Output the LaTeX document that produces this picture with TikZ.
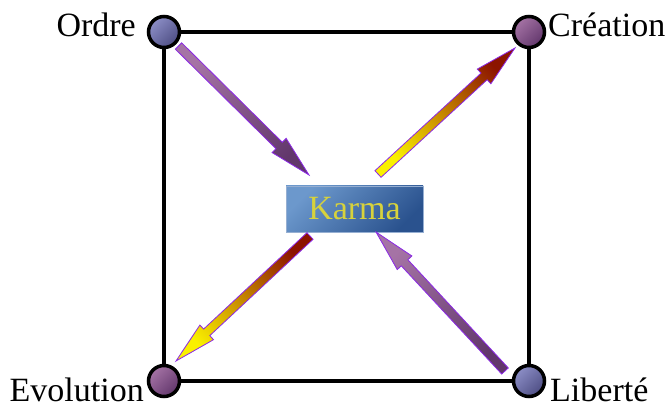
\documentclass[tikz,border=0pt]{standalone}
\usepackage{fontspec}
\setmainfont{Liberation Serif}
\usepackage{tikz}
\usetikzlibrary{calc}

\definecolor{bleuclair}{RGB}{140,142,198}
\definecolor{bleufonce}{RGB}{78,78,132}
\definecolor{mauveclair}{RGB}{165,115,165}
\definecolor{mauvefonce}{RGB}{98,55,108}
\definecolor{karmaclair}{RGB}{108,152,204}
\definecolor{karmafonce}{RGB}{42,82,142}
\definecolor{karmabord}{RGB}{150,175,210}
\definecolor{karmatexte}{RGB}{215,210,60}
\definecolor{violet}{RGB}{140,40,230}
\definecolor{jaune}{RGB}{250,240,0}
\definecolor{rougefonce}{RGB}{140,20,0}

\tikzset{
  coin/.style={circle, draw=black, line width=3.5pt, minimum size=31pt, inner sep=0pt},
  coinbleu/.style={coin, top color=bleuclair, bottom color=bleufonce, shading angle=45},
  coinmauve/.style={coin, top color=mauveclair, bottom color=mauvefonce, shading angle=45},
  etiquette/.style={font=\fontsize{34}{37}\selectfont, inner sep=0pt},
  fleche/.style={draw=violet, line width=0.8pt, line join=miter}
}

% grosse fleche : queue, pointe, couleur queue, couleur pointe, nom
\newcommand\grossefleche[5]{%
  \coordinate (#5-cou) at ($(#2)!42pt!(#1)$);
  \path let \p1=($(#2)-(#1)$), \n1={atan2(\y1,\x1)-90} in \pgfextra{\xdef\angfleche{\n1}};
  \shade[fleche, bottom color=#3, top color=#4, shading angle=\angfleche]
    ($(#1)!4.5pt!90:(#2)$) -- ($(#5-cou)!4.5pt!-90:(#1)$) -- ($(#5-cou)!10pt!-90:(#1)$)
    -- (#2) -- ($(#5-cou)!10pt!90:(#1)$) -- ($(#5-cou)!4.5pt!90:(#1)$)
    -- ($(#1)!4.5pt!-90:(#2)$) -- cycle;
}

\begin{document}
\begin{tikzpicture}[x=1pt, y=1pt]
  \useasboundingbox (0,0) rectangle (667,407);

  % les quatre coins
  \node[coinbleu] (ordre) at (164,375) {};
  \node[coinmauve] (creation) at (529,375) {};
  \node[coinmauve] (evolution) at (164,26) {};
  \node[coinbleu] (liberte) at (529,26) {};
  \draw[line width=3.5pt] (ordre) -- (creation) -- (liberte) -- (evolution) -- (ordre);

  \node[etiquette, anchor=base east] (ordre-txt) at (136,370) {Ordre};
  \node[etiquette, anchor=base west] (creation-txt) at (548,370) {Création};
  \node[etiquette, anchor=base east] (evolution-txt) at (144,5) {Evolution};
  \node[etiquette, anchor=base west] (liberte-txt) at (550,5) {Liberté};

  % le centre
  \node[minimum width=137pt, minimum height=46pt, draw=karmabord, line width=0.6pt,
        top color=karmaclair, bottom color=karmafonce, shading angle=45,
        text=karmatexte, etiquette] (karma) at (354.5,198) {Karma};

  % les fleches
  \coordinate (f1-queue) at (178.5,361);
  \coordinate (f1-pointe) at (309,232);
  \coordinate (f2-queue) at (378,233);
  \coordinate (f2-pointe) at (515,359);
  \coordinate (f3-queue) at (310,171);
  \coordinate (f3-pointe) at (176,46);
  \coordinate (f4-queue) at (505,36);
  \coordinate (f4-pointe) at (376,175);
  \grossefleche{f1-queue}{f1-pointe}{mauveclair}{mauvefonce}{f1}
  \grossefleche{f2-queue}{f2-pointe}{jaune}{rougefonce}{f2}
  \grossefleche{f3-queue}{f3-pointe}{rougefonce}{jaune}{f3}
  \grossefleche{f4-queue}{f4-pointe}{mauvefonce}{mauveclair}{f4}
\end{tikzpicture}
\end{document}
